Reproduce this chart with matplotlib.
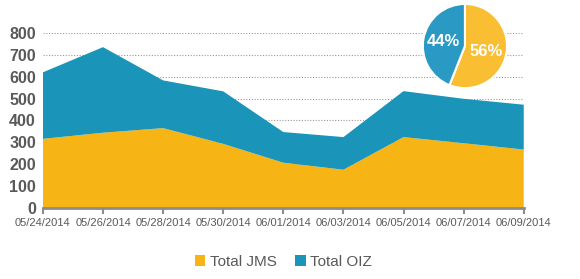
import matplotlib

matplotlib.use("Agg")
import matplotlib.pyplot as plt
import numpy as np

dates = ["05/24/2014", "05/26/2014", "05/28/2014", "05/30/2014", "06/01/2014",
         "06/03/2014", "06/05/2014", "06/07/2014", "06/09/2014"]
total_jms = [316, 344, 365, 293, 207, 175, 324, 296, 267]
total_oiz = [304, 391, 218, 240, 140, 149, 210, 203, 205]
pie_labels = ["Total JMS", "Total OIZ"]
pie_shares = [56, 44]

JMS_COLOR = "#F7B515"
OIZ_COLOR = "#1A94B8"
TEXT_GRAY = "#595959"

plt.rcParams["font.family"] = ["Liberation Sans", "DejaVu Sans"]

fig = plt.figure(figsize=(5.8, 2.79), dpi=100)
ax = fig.add_axes([0.074, 0.2545, 0.829, 0.6275])

x = np.arange(len(dates))
ax.stackplot(x, total_jms, total_oiz, colors=[JMS_COLOR, OIZ_COLOR],
             labels=["Total JMS", "Total OIZ"], zorder=2)

ax.set_xlim(0, len(dates) - 1)
ax.set_ylim(0, 800)
ax.set_yticks(range(0, 801, 100))
ax.yaxis.grid(True, linestyle=(0, (1, 1.5)), color="#9a9a9a", linewidth=0.8, zorder=0)
ax.set_axisbelow(True)
for side in ["top", "right", "left"]:
    ax.spines[side].set_visible(False)
ax.spines["bottom"].set_color("#8c8c8c")
ax.spines["bottom"].set_linewidth(2)
ax.spines["bottom"].set_zorder(3)
ax.set_xticks(x)
ax.set_xticklabels(dates, fontsize=8, color=TEXT_GRAY)
ax.tick_params(axis="x", length=4, width=1.5, color="#8c8c8c", pad=3)
ax.tick_params(axis="y", length=0, pad=5)
for lbl in ax.get_yticklabels():
    lbl.set_fontsize(11.5)
    lbl.set_fontweight("bold")
    lbl.set_color(TEXT_GRAY)

ax.legend(loc="upper center", bbox_to_anchor=(0.5, -0.19), ncol=2, frameon=False,
          fontsize=11, handlelength=0.7, handleheight=0.7, handletextpad=0.3,
          columnspacing=1.2, labelcolor=TEXT_GRAY)

pax = fig.add_axes([0.7276, 0.681, 0.148, 0.308])
wedges, _ = pax.pie(pie_shares, colors=["#F9BE32", "#2A9AC4"], startangle=90,
                    counterclock=False, wedgeprops={"edgecolor": "white", "linewidth": 1.5})
pax.set_xlim(-1.02, 1.02)
pax.set_ylim(-1.02, 1.02)
pax.set_aspect("equal")
pax.text(0.5, -0.12, f"{pie_shares[0]}%", color="white", fontsize=12,
         fontweight="bold", ha="center", va="center")
pax.text(-0.52, 0.1, f"{pie_shares[1]}%", color="white", fontsize=12,
         fontweight="bold", ha="center", va="center")

fig.savefig("out.png", dpi=100)
